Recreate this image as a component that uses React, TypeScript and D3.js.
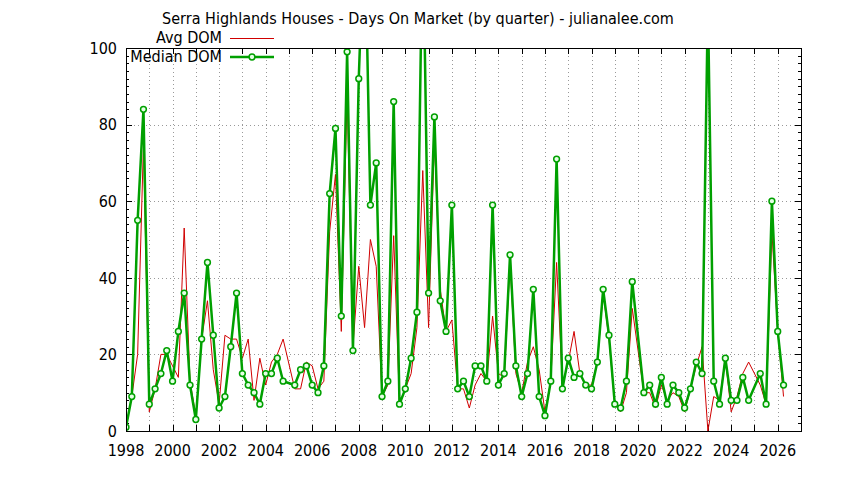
import * as d3 from "d3";

// quarters, one row per year (missing quarters carry null values)
const quarters = [
  "1998Q1", "1998Q2", "1998Q3", "1998Q4",
  "1999Q1", "1999Q2", "1999Q3", "1999Q4",
  "2000Q1", "2000Q2", "2000Q3", "2000Q4",
  "2001Q1", "2001Q2", "2001Q3", "2001Q4",
  "2002Q1", "2002Q2", "2002Q3", "2002Q4",
  "2003Q1", "2003Q2", "2003Q3", "2003Q4",
  "2004Q1", "2004Q2", "2004Q3", "2004Q4",
  "2005Q1", "2005Q2", "2005Q3", "2005Q4",
  "2006Q1", "2006Q2", "2006Q3", "2006Q4",
  "2007Q1", "2007Q2", "2007Q3", "2007Q4",
  "2008Q1", "2008Q2", "2008Q3", "2008Q4",
  "2009Q1", "2009Q2", "2009Q3", "2009Q4",
  "2010Q1", "2010Q2", "2010Q3", "2010Q4",
  "2011Q1", "2011Q2", "2011Q3", "2011Q4",
  "2012Q1", "2012Q2", "2012Q3", "2012Q4",
  "2013Q1", "2013Q2", "2013Q3", "2013Q4",
  "2014Q1", "2014Q2", "2014Q3", "2014Q4",
  "2015Q1", "2015Q2", "2015Q3", "2015Q4",
  "2016Q1", "2016Q2", "2016Q3", "2016Q4",
  "2017Q1", "2017Q2", "2017Q3", "2017Q4",
  "2018Q1", "2018Q2", "2018Q3", "2018Q4",
  "2019Q1", "2019Q2", "2019Q3", "2019Q4",
  "2020Q1", "2020Q2", "2020Q3", "2020Q4",
  "2021Q1", "2021Q2", "2021Q3", "2021Q4",
  "2022Q1", "2022Q2", "2022Q3", "2022Q4",
  "2023Q1", "2023Q2", "2023Q3", "2023Q4",
  "2024Q1", "2024Q2", "2024Q3", "2024Q4",
  "2025Q1", "2025Q2", "2025Q3", "2025Q4",
  "2026Q1", "2026Q2",
];

const avgDom: (number | null)[] = [
  1, 9, 20, 75,
  5, 11, 20, 20,
  17, 14, 53, 13,
  4, 24, 34, 16,
  7, 25, 24, 24,
  19, 24, 8, 19,
  12, 18, 20, 24,
  null, 11, 11, 18,
  17, 11, 13, 52,
  67, 26, 88, 22,
  43, 27, 50, 43,
  9, 12, 51, 7,
  11, 15, 27, 68,
  27, 76, 37, 26,
  29, 11, 11, 6,
  12, 15, 13, 30,
  15, 14, 44, 15,
  10, 18, 22, 16,
  5, 13, 44, 12,
  18, 26, 15, 12,
  12, 18, 36, 24,
  7, 5, 10, 32,
  null, 10, 10, 6,
  12, 8, 10, 9,
  5, 11, 17, 22,
  0, 9, 8, 19,
  5, 9, 15, 18,
  null, 12, 7, 52,
  26, 9,
];

const medianDom: (number | null)[] = [
  1, 9, 55, 84,
  7, 11, 15, 21,
  13, 26, 36, 12,
  3, 24, 44, 25,
  6, 9, 22, 36,
  15, 12, 10, 7,
  15, 15, 19, 13,
  null, 12, 16, 17,
  12, 10, 17, 62,
  79, 30, 99, 21,
  92, 135, 59, 70,
  9, 13, 86, 7,
  11, 19, 31, 135,
  36, 82, 34, 26,
  59, 11, 13, 9,
  17, 17, 13, 59,
  12, 15, 46, 17,
  9, 15, 37, 9,
  4, 13, 71, 11,
  19, 14, 15, 12,
  11, 18, 37, 25,
  7, 6, 13, 39,
  null, 10, 12, 7,
  14, 7, 12, 10,
  6, 11, 18, 15,
  112, 13, 7, 19,
  8, 8, 14, 8,
  null, 15, 7, 60,
  26, 12,
];

const xTickLabels = [1998, 2000, 2002, 2004, 2006, 2008, 2010, 2012, 2014, 2016, 2018, 2020, 2022, 2024, 2026];
const yTickLabels = [0, 20, 40, 60, 80, 100];

const W = 844;
const H = 480;
const left = 126, right = 801, top = 48, bottom = 431;
const FONT = "'DejaVu Sans Condensed', 'DejaVu Sans', sans-serif";
const RED = "#d00000";
const GREEN = "#00a000";

type Pt = { t: number; v: number };

function toPoints(vals: (number | null)[]): Pt[] {
  const pts: Pt[] = [];
  vals.forEach((v, i) => {
    if (v == null) return;
    const [y, q] = quarters[i].split("Q");
    pts.push({ t: +y + (+q - 1) / 4, v });
  });
  return pts;
}

export default function App() {
  const x = d3.scaleLinear().domain([1998, 2027]).range([left, right]);
  const y = d3.scaleLinear().domain([0, 100]).range([bottom, top]);

  const avgPts = toPoints(avgDom);
  const medPts = toPoints(medianDom);

  const line = d3.line<Pt>().x((d) => x(d.t)).y((d) => y(d.v));

  const yearTicks = d3.range(1998, 2027);
  const yMinor = d3.range(0, 101, 2);

  return (
    <svg width={W} height={H} style={{ position: "absolute", left: 0, top: 0, background: "#fff" }} fontFamily={FONT}>
      <defs>
        <clipPath id="plot">
          <rect x={left} y={top} width={right - left} height={bottom - top} />
        </clipPath>
      </defs>

      <text x={418} y={24} textAnchor="middle" fontSize={16}>
        Serra Highlands Houses - Days On Market (by quarter) - julianalee.com
      </text>

      {/* grid */}
      <g stroke="#999" strokeWidth={1} strokeDasharray="1 3">
        {yTickLabels.slice(1, -1).map((v) => (
          <line key={`gy${v}`} x1={left} x2={right} y1={Math.round(y(v)) + 0.5} y2={Math.round(y(v)) + 0.5} />
        ))}
        {yearTicks.slice(1).map((t) => (
          <line key={`gx${t}`} x1={Math.round(x(t)) + 0.5} x2={Math.round(x(t)) + 0.5} y1={top} y2={bottom} />
        ))}
      </g>

      {/* ticks, mirrored */}
      <g stroke="#000" strokeWidth={1}>
        {yMinor.map((v) => {
          const len = v % 20 === 0 ? 6 : 3;
          const yy = Math.round(y(v)) + 0.5;
          return (
            <g key={`ty${v}`}>
              <line x1={left} x2={left + len} y1={yy} y2={yy} />
              <line x1={right - len} x2={right} y1={yy} y2={yy} />
            </g>
          );
        })}
        {yearTicks.map((t) => {
          const xx = Math.round(x(t)) + 0.5;
          return (
            <g key={`tx${t}`}>
              <line x1={xx} x2={xx} y1={bottom} y2={bottom - 6} />
              <line x1={xx} x2={xx} y1={top} y2={top + 6} />
            </g>
          );
        })}
      </g>

      {/* data */}
      <g clipPath="url(#plot)">
        <path d={line(avgPts) ?? ""} fill="none" stroke={RED} strokeWidth={1} strokeLinejoin="round" />
        <path d={line(medPts) ?? ""} fill="none" stroke={GREEN} strokeWidth={2.5} strokeLinejoin="round" />
        {medPts.filter((d) => d.v <= 100).map((d, i) => (
          <circle key={`p${i}`} cx={x(d.t)} cy={y(d.v)} r={2.9} fill="#e6ffe6" stroke={GREEN} strokeWidth={1.5} />
        ))}
      </g>

      <rect x={left + 0.5} y={top + 0.5} width={right - left} height={bottom - top} fill="none" stroke="#000" strokeWidth={1} />

      {/* axis labels */}
      <g fontSize={16} fill="#000">
        {yTickLabels.map((v) => (
          <text key={`ly${v}`} x={117} y={y(v)} dy="0.36em" textAnchor="end">{v}</text>
        ))}
        {xTickLabels.map((t) => (
          <text key={`lx${t}`} x={x(t)} y={456} textAnchor="middle">{t}</text>
        ))}
      </g>

      {/* legend */}
      <g fontSize={16}>
        <text x={222} y={43} textAnchor="end">Avg DOM</text>
        <line x1={230} x2={274} y1={38.5} y2={38.5} stroke={RED} strokeWidth={1} />
        <text x={222} y={62} textAnchor="end">Median DOM</text>
        <line x1={230} x2={274} y1={57} y2={57} stroke={GREEN} strokeWidth={2.5} />
        <circle cx={252} cy={57} r={2.9} fill="#e6ffe6" stroke={GREEN} strokeWidth={1.5} />
      </g>
    </svg>
  );
}
